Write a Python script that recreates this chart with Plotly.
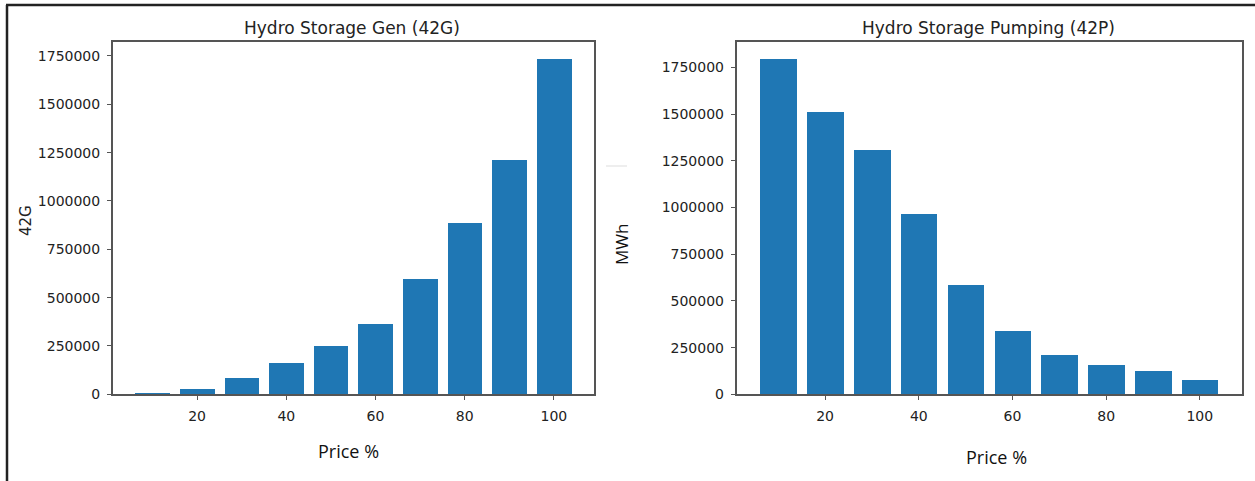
import plotly.graph_objects as go
from plotly.subplots import make_subplots

# price buckets (%)
price = [10, 20, 30, 40, 50, 60, 70, 80, 90, 100]
gen_42g = [8000, 28000, 87000, 161000, 253000, 363000, 597000, 890000, 1215000, 1737000]
pump_42p = [1795000, 1509000, 1309000, 962000, 582000, 339000, 209000, 157000, 124000, 73000]
x_ticks = [20, 40, 60, 80, 100]
y_ticks = [0, 250000, 500000, 750000, 1000000, 1250000, 1500000, 1750000]

W, H = 1255, 481
BLUE = "#1f77b4"
TICK_FONT = dict(family="DejaVu Sans", size=14, color="#222")


def px(x):
    return x / W


def py(y):
    return 1 - y / H


fig = make_subplots(rows=1, cols=2)

fig.add_trace(go.Bar(x=price, y=gen_42g, width=7.8, marker=dict(color=BLUE, line=dict(width=0)),
                     showlegend=False), row=1, col=1)
fig.add_trace(go.Bar(x=price, y=pump_42p, width=7.8, marker=dict(color=BLUE, line=dict(width=0)),
                     showlegend=False), row=1, col=2)

axis_style = dict(showline=True, linecolor="#555", linewidth=1.6, mirror=True,
                  ticks="outside", ticklen=4, tickcolor="#555", tickwidth=1.2,
                  showgrid=False, zeroline=False, tickfont=TICK_FONT, automargin=False)

fig.update_xaxes(**axis_style, tickvals=x_ticks, range=[1.1, 108.9], ticklabelstandoff=4)
fig.update_yaxes(**axis_style, tickvals=y_ticks, ticktext=[str(v) for v in y_ticks],
                 ticklabelstandoff=4)

fig.update_layout(
    width=W, height=H, autosize=False,
    margin=dict(l=0, r=0, t=0, b=0, pad=0),
    paper_bgcolor="white", plot_bgcolor="white",
    bargap=0,
    xaxis=dict(domain=[px(112.8), px(593.6)]),
    yaxis=dict(domain=[py(394.3), py(41.7)], range=[0, max(gen_42g) * 1.05]),
    xaxis2=dict(domain=[px(736.6), px(1241.5)]),
    yaxis2=dict(domain=[py(394.3), py(42.3)], range=[0, max(pump_42p) * 1.05]),
)

title_font = dict(family="DejaVu Sans", size=17, color="#222")
label_font = dict(family="Open Sans", size=18, color="#111")

annotations = [
    dict(text="Hydro Storage Gen (42G)", x=px(352), y=py(28), font=title_font),
    dict(text="Hydro Storage Pumping (42P)", x=px(988), y=py(28), font=title_font),
    dict(text="Price %", x=px(348), y=py(451), font=label_font),
    dict(text="Price %", x=px(996), y=py(457), font=label_font),
    dict(text="42G", x=px(26), y=py(221), textangle=-90,
         font=dict(family="DejaVu Sans", size=15, color="#222")),
    dict(text="MWh", x=px(621), y=py(245), textangle=-90, font=dict(family="Open Sans", size=17, color="#111")),
]
for a in annotations:
    fig.add_annotation(xref="paper", yref="paper", showarrow=False,
                       xanchor="center", yanchor="middle", **a)

# outer frame of the screenshot (top and left edges)
fig.add_shape(type="line", xref="paper", yref="paper", x0=px(6), x1=1, y0=py(5), y1=py(5),
              line=dict(color="#222", width=2.5))
fig.add_shape(type="line", xref="paper", yref="paper", x0=px(7), x1=px(7), y0=py(5), y1=0,
              line=dict(color="#222", width=2.5))
# faint separator left in the screenshot
fig.add_shape(type="line", xref="paper", yref="paper", x0=px(606), x1=px(627), y0=py(166), y1=py(166),
              line=dict(color="#ddd", width=1))

# drop the default page margin so the figure sits at the window origin
fig.write_html("out.html", config={"displayModeBar": False},
               post_script="document.body.style.margin='0';")
